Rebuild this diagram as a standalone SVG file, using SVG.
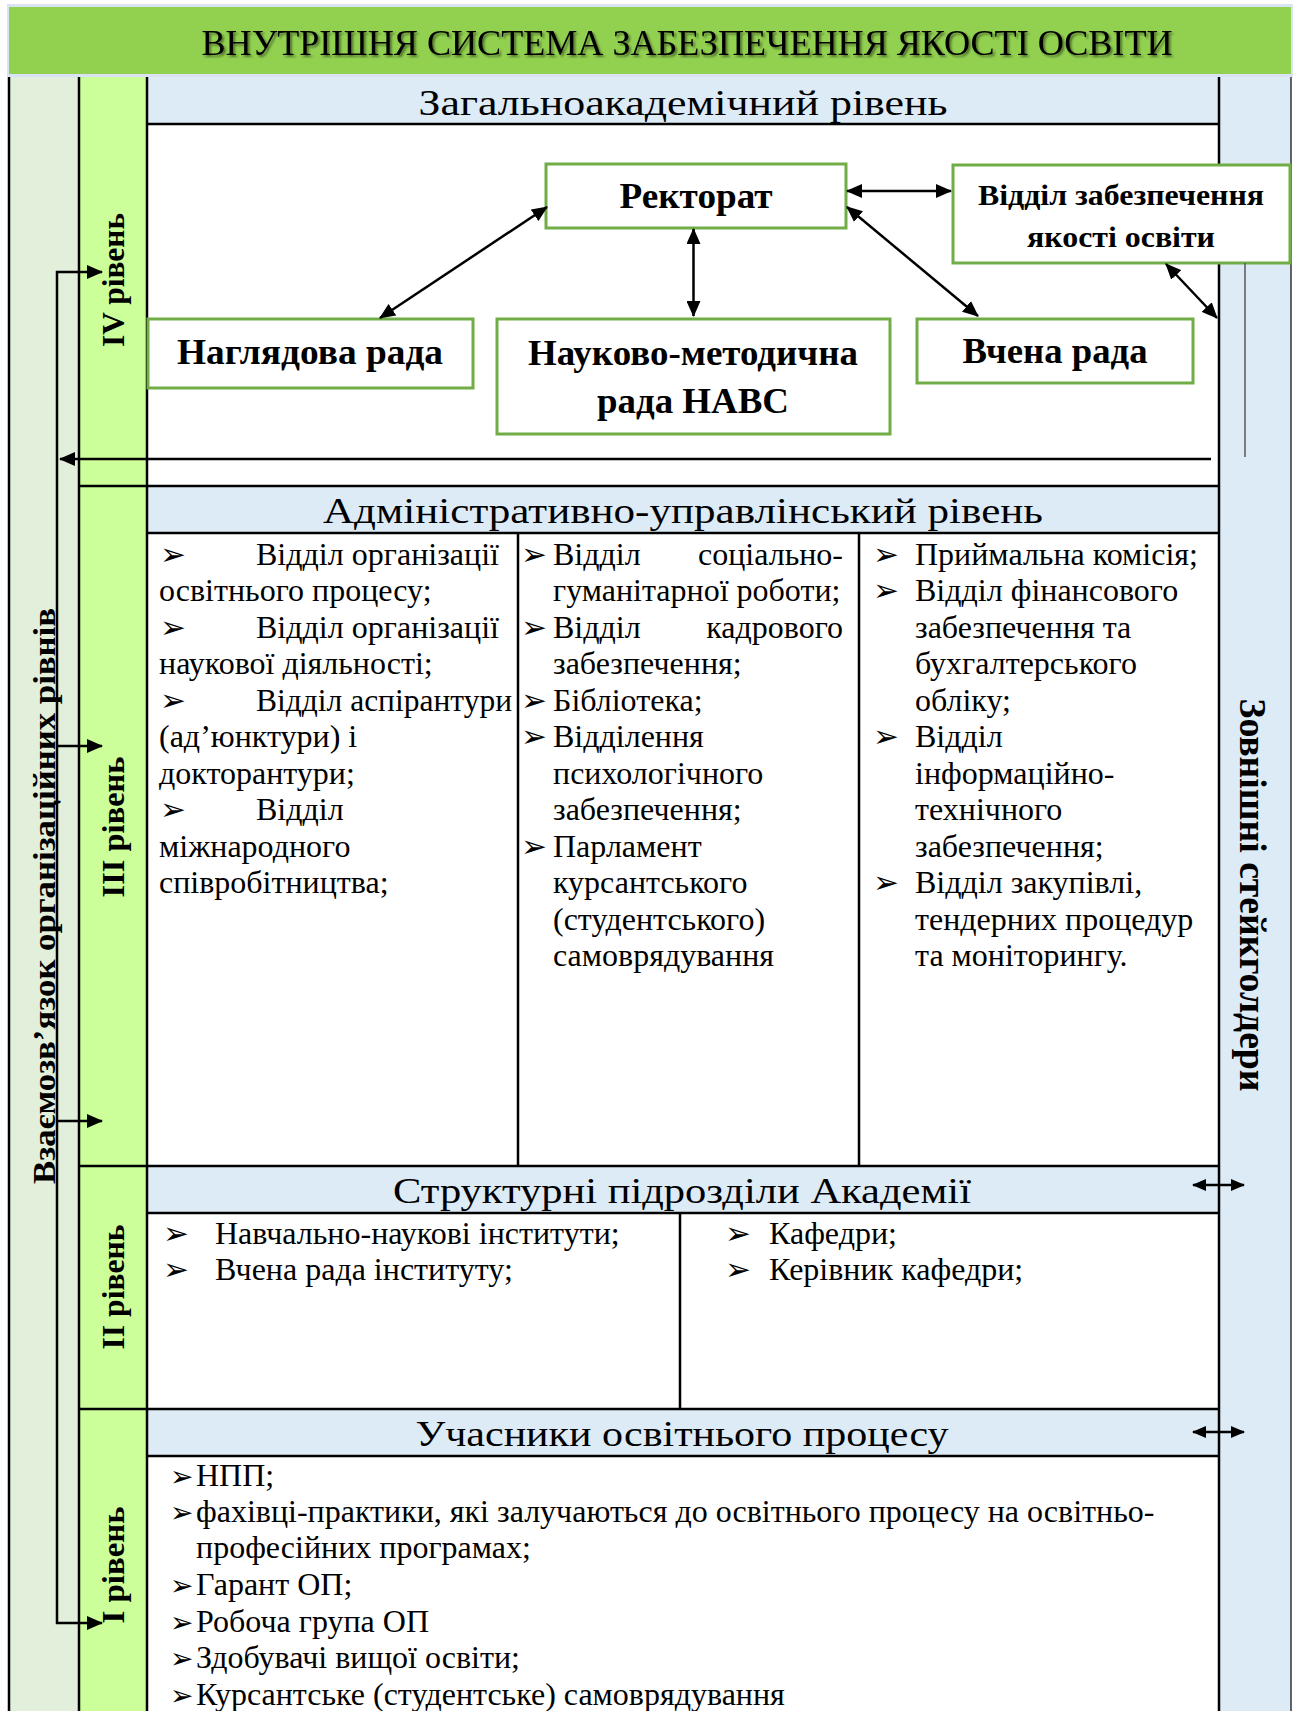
<svg xmlns="http://www.w3.org/2000/svg" width="1301" height="1711" viewBox="0 0 1301 1711">
<defs>
<style>
.bg{stroke:none}
.ln{stroke:#000;stroke-width:2.5;fill:none}
.node{fill:#fff;stroke:#70AD47;stroke-width:3}
.nt{font-family:"Liberation Serif","Times New Roman",serif;font-weight:bold;font-size:36px;text-anchor:middle;fill:#000}
.hdr{font-family:"Liberation Serif","Times New Roman",serif;font-size:35px;text-anchor:middle;fill:#000}
.lst{font-family:"Liberation Serif","Times New Roman",serif;font-size:32px;fill:#000}
.blt{font-family:"DejaVu Sans",sans-serif;font-size:31px;fill:#000}
.blt2{font-family:"DejaVu Sans",sans-serif;font-size:28px;fill:#000}
.lbl{font-family:"Liberation Serif","Times New Roman",serif;font-weight:bold;font-size:32px;text-anchor:middle;fill:#000}
.conn{stroke:#000;stroke-width:2.5;fill:none}
</style>
<marker id="a" viewBox="0 0 16 14" refX="15" refY="7" markerWidth="16" markerHeight="14" markerUnits="userSpaceOnUse" orient="auto-start-reverse"><path d="M0,0 L16,7 L0,14 z" fill="#000"/></marker>
<marker id="s" viewBox="0 0 14 12" refX="13" refY="6" markerWidth="14" markerHeight="12" markerUnits="userSpaceOnUse" orient="auto-start-reverse"><path d="M0,0 L14,6 L0,12 z" fill="#000"/></marker>
<filter id="sh" x="-5%" y="-30%" width="110%" height="160%"><feDropShadow dx="2" dy="2" stdDeviation="1.2" flood-color="#000" flood-opacity="0.45"/></filter>
</defs>

<g id="frame">
<rect class="bg" x="9" y="75" width="70" height="1636" fill="#E2EFDA"/>
<rect class="bg" x="79" y="75" width="68" height="1636" fill="#CCFF99"/>
<rect class="bg" x="147" y="75" width="1072" height="1636" fill="#FFFFFF"/>
<rect class="bg" x="1219" y="75" width="72" height="1636" fill="#DDEBF7"/>
<rect class="bg" x="147" y="75" width="1072" height="49" fill="#DDEBF7"/>
<rect class="bg" x="147" y="486" width="1072" height="47" fill="#DDEBF7"/>
<rect class="bg" x="147" y="1166" width="1072" height="47" fill="#DDEBF7"/>
<rect class="bg" x="147" y="1409" width="1072" height="47" fill="#DDEBF7"/>
<path class="ln" d="M9,75 V1711 M79,75 V1711 M147,75 V1711 M1219,75 V1711"/>
<path d="M1291,75 V1711" stroke="#333" stroke-width="1.5"/>
<path class="ln" d="M147,124 H1219 M79,486 H1219 M147,533 H1219 M518,533 V1166 M859,533 V1166 M79,1166 H1219 M147,1213 H1219 M680,1213 V1409 M79,1409 H1219 M147,1456 H1219"/>
</g>

<g id="title">
<rect x="7" y="4" width="1286" height="73" fill="#DAE3F3"/>
<rect x="9" y="7" width="1282" height="67" fill="#92D050"/>
<text x="687" y="55" font-family="'Liberation Serif','Times New Roman',serif" font-size="35" text-anchor="middle" textLength="971" lengthAdjust="spacingAndGlyphs" filter="url(#sh)">ВНУТРІШНЯ СИСТЕМА ЗАБЕЗПЕЧЕННЯ ЯКОСТІ ОСВІТИ</text>
</g>

<g id="side-labels">
<text class="lbl" transform="translate(55,896) rotate(-90)" textLength="576" lengthAdjust="spacingAndGlyphs">Взаємозв’язок організаційних рівнів</text>
<text class="lbl" transform="translate(124,280) rotate(-90)" textLength="134" lengthAdjust="spacingAndGlyphs">IV рівень</text>
<text class="lbl" transform="translate(124,827) rotate(-90)" textLength="141" lengthAdjust="spacingAndGlyphs">III рівень</text>
<text class="lbl" transform="translate(124,1287) rotate(-90)" textLength="125" lengthAdjust="spacingAndGlyphs">II рівень</text>
<text class="lbl" transform="translate(124,1565) rotate(-90)" textLength="117" lengthAdjust="spacingAndGlyphs">I рівень</text>
<text class="lbl" style="font-size:37px" transform="translate(1240,895) rotate(90)" textLength="393" lengthAdjust="spacingAndGlyphs">Зовнішні стейкголдери</text>
</g>

<g id="headers">
<text class="hdr" x="683" y="115" textLength="529" lengthAdjust="spacingAndGlyphs">Загальноакадемічний рівень</text>
<text class="hdr" x="683" y="523" textLength="720" lengthAdjust="spacingAndGlyphs">Адміністративно-управлінський рівень</text>
<text class="hdr" x="682" y="1203" textLength="578" lengthAdjust="spacingAndGlyphs">Структурні підрозділи Академії</text>
<text class="hdr" x="682" y="1446" textLength="533" lengthAdjust="spacingAndGlyphs">Учасники освітнього процесу</text>
</g>

<g id="node-rektorat">
<rect class="node" x="546" y="164" width="300" height="64"/>
<text class="nt" x="696" y="208" textLength="153" lengthAdjust="spacingAndGlyphs">Ректорат</text>
</g>
<g id="node-viddil-yakosti">
<rect class="node" x="953" y="165" width="337" height="98"/>
<text class="nt" style="font-size:30px" x="1121" y="205" textLength="286" lengthAdjust="spacingAndGlyphs">Відділ забезпечення</text>
<text class="nt" style="font-size:30px" x="1121" y="247" textLength="188" lengthAdjust="spacingAndGlyphs">якості освіти</text>
</g>
<g id="node-nahliadova">
<rect class="node" x="148" y="319" width="325" height="69"/>
<text class="nt" x="310" y="364" textLength="266" lengthAdjust="spacingAndGlyphs">Наглядова рада</text>
</g>
<g id="node-nmr">
<rect class="node" x="497" y="319" width="393" height="115"/>
<text class="nt" x="693" y="365" textLength="330" lengthAdjust="spacingAndGlyphs">Науково-методична</text>
<text class="nt" x="693" y="413" textLength="192" lengthAdjust="spacingAndGlyphs">рада НАВС</text>
</g>
<g id="node-vchena">
<rect class="node" x="917" y="319" width="276" height="64"/>
<text class="nt" x="1055" y="363" textLength="185" lengthAdjust="spacingAndGlyphs">Вчена рада</text>
</g>

<g id="connectors">
<path class="conn" d="M547,207 L380,318" marker-start="url(#a)" marker-end="url(#a)"/>
<path class="conn" d="M693.5,229 L693.5,316" marker-start="url(#a)" marker-end="url(#a)"/>
<path class="conn" d="M847,191 L951,191" marker-start="url(#a)" marker-end="url(#a)"/>
<path class="conn" d="M847,207 L978,316" marker-start="url(#a)" marker-end="url(#a)"/>
<path class="conn" d="M1166,264 L1217,318" marker-start="url(#a)" marker-end="url(#a)"/>
<path class="conn" d="M1211,459 L60,459" marker-end="url(#a)"/>
<path class="conn" stroke-width="2" d="M102,272 L57,272 L57,1623 L102,1623" marker-start="url(#a)" marker-end="url(#a)"/>
<path class="conn" stroke-width="2" d="M57,746 L102,746" marker-end="url(#a)"/>
<path class="conn" stroke-width="2" d="M57,1121 L102,1121" marker-end="url(#a)"/>
<path d="M1245,263 L1245,457" stroke="#595959" stroke-width="1.5" fill="none"/>
<path class="conn" stroke-width="2" d="M1193,1185 L1244,1185" marker-start="url(#s)" marker-end="url(#s)"/>
<path class="conn" stroke-width="2" d="M1193,1432 L1244,1432" marker-start="url(#s)" marker-end="url(#s)"/>
</g>

<g id="level3-col1">
<text class="blt" x="160" y="565">➢</text>
<text class="lst" x="256" y="565" textLength="243" lengthAdjust="spacing">Відділ організації</text>
<text class="lst" x="159" y="601">освітнього процесу;</text>
<text class="blt" x="160" y="638">➢</text>
<text class="lst" x="256" y="638" textLength="243" lengthAdjust="spacing">Відділ організації</text>
<text class="lst" x="159" y="674">наукової діяльності;</text>
<text class="blt" x="160" y="711">➢</text>
<text class="lst" x="256" y="711" textLength="256" lengthAdjust="spacingAndGlyphs">Відділ аспірантури</text>
<text class="lst" x="159" y="747">(ад’юнктури) і</text>
<text class="lst" x="159" y="784">докторантури;</text>
<text class="blt" x="160" y="820">➢</text>
<text class="lst" x="256" y="820">Відділ</text>
<text class="lst" x="159" y="857">міжнародного</text>
<text class="lst" x="159" y="893">співробітництва;</text>
</g>

<g id="level3-col2">
<text class="blt" x="521" y="565">➢</text>
<text class="lst" x="553" y="565">Відділ</text>
<text class="lst" x="843" y="565" text-anchor="end">соціально-</text>
<text class="lst" x="553" y="601">гуманітарної роботи;</text>
<text class="blt" x="521" y="638">➢</text>
<text class="lst" x="553" y="638">Відділ</text>
<text class="lst" x="843" y="638" text-anchor="end">кадрового</text>
<text class="lst" x="553" y="674">забезпечення;</text>
<text class="blt" x="521" y="711">➢</text>
<text class="lst" x="553" y="711">Бібліотека;</text>
<text class="blt" x="521" y="747">➢</text>
<text class="lst" x="553" y="747">Відділення</text>
<text class="lst" x="553" y="784">психологічного</text>
<text class="lst" x="553" y="820">забезпечення;</text>
<text class="blt" x="521" y="857">➢</text>
<text class="lst" x="553" y="857">Парламент</text>
<text class="lst" x="553" y="893">курсантського</text>
<text class="lst" x="553" y="930">(студентського)</text>
<text class="lst" x="553" y="966">самоврядування</text>
</g>

<g id="level3-col3">
<text class="blt" x="873" y="565">➢</text>
<text class="lst" x="915" y="565">Приймальна комісія;</text>
<text class="blt" x="873" y="601">➢</text>
<text class="lst" x="915" y="601">Відділ фінансового</text>
<text class="lst" x="915" y="638">забезпечення та</text>
<text class="lst" x="915" y="674">бухгалтерського</text>
<text class="lst" x="915" y="711">обліку;</text>
<text class="blt" x="873" y="747">➢</text>
<text class="lst" x="915" y="747">Відділ</text>
<text class="lst" x="915" y="784">інформаційно-</text>
<text class="lst" x="915" y="820">технічного</text>
<text class="lst" x="915" y="857">забезпечення;</text>
<text class="blt" x="873" y="893">➢</text>
<text class="lst" x="915" y="893">Відділ закупівлі,</text>
<text class="lst" x="915" y="930">тендерних процедур</text>
<text class="lst" x="915" y="966">та моніторингу.</text>
</g>

<g id="level2">
<text class="blt" x="163" y="1244">➢</text>
<text class="lst" x="215" y="1244">Навчально-наукові інститути;</text>
<text class="blt" x="163" y="1280">➢</text>
<text class="lst" x="215" y="1280">Вчена рада інституту;</text>
<text class="blt" x="725" y="1244">➢</text>
<text class="lst" x="769" y="1244">Кафедри;</text>
<text class="blt" x="725" y="1280">➢</text>
<text class="lst" x="769" y="1280">Керівник кафедри;</text>
</g>

<g id="level1">
<text class="blt2" x="170" y="1486">➢</text>
<text class="lst" x="196" y="1486">НПП;</text>
<text class="blt2" x="170" y="1522">➢</text>
<text class="lst" x="196" y="1522">фахівці-практики, які залучаються до освітнього процесу на освітньо-</text>
<text class="lst" x="196" y="1558">професійних програмах;</text>
<text class="blt2" x="170" y="1595">➢</text>
<text class="lst" x="196" y="1595">Гарант ОП;</text>
<text class="blt2" x="170" y="1632">➢</text>
<text class="lst" x="196" y="1632">Робоча група ОП</text>
<text class="blt2" x="170" y="1668">➢</text>
<text class="lst" x="196" y="1668">Здобувачі вищої освіти;</text>
<text class="blt2" x="170" y="1705">➢</text>
<text class="lst" x="196" y="1705">Курсантське (студентське) самоврядування</text>
</g>
</svg>
